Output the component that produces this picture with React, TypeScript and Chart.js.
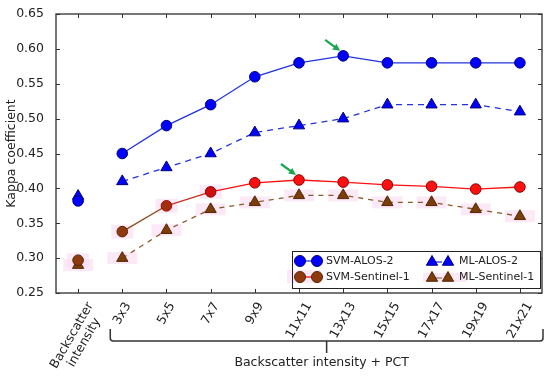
import { useEffect, useRef } from "react";
import { Chart, registerables } from "chart.js";
Chart.register(...registerables);

const categories = ["Backscatter\nintensity", "3x3", "5x5", "7x7", "9x9", "11x11", "13x13", "15x15", "17x17", "19x19", "21x21"];
const svmAlos2 = [0.382, 0.45, 0.49, 0.52, 0.56, 0.58, 0.59, 0.58, 0.58, 0.58, 0.58];
const mlAlos2 = [0.389, 0.41, 0.43, 0.45, 0.48, 0.49, 0.5, 0.52, 0.52, 0.52, 0.51];
const svmSentinel1 = [0.297, 0.338, 0.375, 0.395, 0.408, 0.412, 0.409, 0.405, 0.403, 0.399, 0.402];
const mlSentinel1 = [0.29, 0.3, 0.34, 0.37, 0.38, 0.39, 0.39, 0.38, 0.38, 0.37, 0.36];
const yTickValues = [0.25, 0.3, 0.35, 0.4, 0.45, 0.5, 0.55, 0.6, 0.65];
const seriesNames = ["SVM-ALOS-2", "ML-ALOS-2", "SVM-Sentinel-1", "ML-Sentinel-1"];
const groupTitle = "Backscatter intensity + PCT";
const yTitle = "Kappa coefficient";
// best-result markers (index into categories)
const bestAlos2Index = 6;
const bestSentinel1Index = 5;

const FONT = '"DejaVu Sans", sans-serif';
const TXT = "#222222";
const BLUE = "#0000ff";
const BLUE_EDGE = "#00007a";
const BLUE_LINE = "#2233dd";
const RED = "#ff1010";
const RED_EDGE = "#8a0000";
const BROWN = "#8e3a0e";
const BROWN_EDGE = "#5a2406";
const TRI_BROWN = "#7a3e08";
const PINK = "rgba(250, 218, 242, 0.6)";
const GREEN = "#1aa64f";

const svmS1Fill = [BROWN, BROWN, "#a0300e", "#d01010", RED, RED, RED, RED, RED, RED, RED];
const svmS1Edge = [BROWN_EDGE, BROWN_EDGE, "#b00000", RED_EDGE, RED_EDGE, RED_EDGE, RED_EDGE, RED_EDGE, RED_EDGE, RED_EDGE, RED_EDGE];

// dataset order in the chart
const IDX_SVM_ALOS = 0;
const IDX_SVM_S1 = 1;
const IDX_ML_S1 = 3;

function drawCircle(ctx: CanvasRenderingContext2D, x: number, y: number, r: number, fill: string, edge: string) {
  ctx.beginPath();
  ctx.arc(x, y, r, 0, Math.PI * 2);
  ctx.fillStyle = fill;
  ctx.fill();
  ctx.lineWidth = 1;
  ctx.strokeStyle = edge;
  ctx.stroke();
}
function drawTri(ctx: CanvasRenderingContext2D, x: number, y: number, r: number, fill: string, edge: string) {
  ctx.beginPath();
  let a = 0;
  for (let k = 0; k < 3; k++) {
    const px = x + Math.sin(a) * r;
    const py = y - Math.cos(a) * r;
    if (k === 0) ctx.moveTo(px, py);
    else ctx.lineTo(px, py);
    a += (2 * Math.PI) / 3;
  }
  ctx.closePath();
  ctx.fillStyle = fill;
  ctx.fill();
  ctx.lineWidth = 1;
  ctx.strokeStyle = edge;
  ctx.stroke();
}
function drawArrow(ctx: CanvasRenderingContext2D, px: number, py: number) {
  const x0 = px - 18, y0 = py - 16;
  const x1 = px - 3, y1 = py - 5;
  const ang = Math.atan2(y1 - y0, x1 - x0);
  const head = 8;
  ctx.save();
  ctx.strokeStyle = GREEN;
  ctx.fillStyle = GREEN;
  ctx.lineWidth = 2.2;
  ctx.beginPath();
  ctx.moveTo(x0, y0);
  ctx.lineTo(x1 - Math.cos(ang) * head * 0.8, y1 - Math.sin(ang) * head * 0.8);
  ctx.stroke();
  ctx.beginPath();
  ctx.moveTo(x1, y1);
  ctx.lineTo(x1 - Math.cos(ang - 0.45) * head, y1 - Math.sin(ang - 0.45) * head);
  ctx.lineTo(x1 - Math.cos(ang + 0.45) * head, y1 - Math.sin(ang + 0.45) * head);
  ctx.closePath();
  ctx.fill();
  ctx.restore();
}

const decor = {
  id: "decor",
  beforeDatasetsDraw(chart: any) {
    const ctx = chart.ctx as CanvasRenderingContext2D;
    ctx.save();
    ctx.fillStyle = PINK;
    const mS = chart.getDatasetMeta(IDX_SVM_S1);
    mS.data.forEach((pt: any, i: number) => {
      if (i <= 3) ctx.fillRect(pt.x - 11, pt.y - 7, 22, 14);
    });
    const mT = chart.getDatasetMeta(IDX_ML_S1);
    mT.data.forEach((pt: any) => {
      ctx.fillRect(pt.x - 15, pt.y - 6, 30, 12);
    });
    ctx.restore();
  },
  afterDraw(chart: any) {
    const ctx = chart.ctx as CanvasRenderingContext2D;
    const a = chart.chartArea;
    const xs = chart.scales.x;
    const ys = chart.scales.y;
    ctx.save();
    // frame
    ctx.strokeStyle = "#4a4a4a";
    ctx.lineWidth = 1.5;
    ctx.strokeRect(a.left, a.top, a.right - a.left, a.bottom - a.top);
    // inward ticks
    ctx.lineWidth = 1;
    ctx.strokeStyle = "#333";
    ctx.beginPath();
    yTickValues.forEach((v) => {
      const py = Math.round(ys.getPixelForValue(v)) + 0.5;
      ctx.moveTo(a.left, py); ctx.lineTo(a.left + 4, py);
      ctx.moveTo(a.right - 4, py); ctx.lineTo(a.right, py);
    });
    categories.forEach((_, i) => {
      const px = Math.round(xs.getPixelForValue(i)) + 0.5;
      ctx.moveTo(px, a.top); ctx.lineTo(px, a.top + 4);
      ctx.moveTo(px, a.bottom - 4); ctx.lineTo(px, a.bottom);
    });
    ctx.stroke();

    // x labels rotated
    ctx.fillStyle = TXT;
    ctx.font = `12.5px ${FONT}`;
    const ang = (60 * Math.PI) / 180;
    const lineH = 14;
    categories.forEach((lab, i) => {
      const lines = lab.split("\n");
      const w = Math.max(...lines.map((l) => ctx.measureText(l).width));
      const h = lines.length * lineH;
      const bh = w * Math.sin(ang) + h * Math.cos(ang);
      const cx = xs.getPixelForValue(i);
      const cy = a.bottom + 7 + bh / 2;
      ctx.save();
      ctx.translate(cx, cy);
      ctx.rotate(-ang);
      ctx.textAlign = "center";
      ctx.textBaseline = "middle";
      lines.forEach((l, k) => ctx.fillText(l, 0, (k - (lines.length - 1) / 2) * lineH));
      ctx.restore();
    });

    // bracket
    const xL = xs.getPixelForValue(1) - 12;
    const xR = a.right + 1;
    const yB = a.bottom + 48;
    const hook = 12, rr = 3;
    const xM = (xL + xR) / 2;
    ctx.strokeStyle = "#333";
    ctx.lineWidth = 1.5;
    ctx.beginPath();
    ctx.moveTo(xL, yB - hook);
    ctx.lineTo(xL, yB - rr);
    ctx.quadraticCurveTo(xL, yB, xL + rr, yB);
    ctx.lineTo(xR - rr, yB);
    ctx.quadraticCurveTo(xR, yB, xR, yB - rr);
    ctx.lineTo(xR, yB - hook);
    ctx.moveTo(xM, yB);
    ctx.lineTo(xM, yB + 12);
    ctx.stroke();
    ctx.textAlign = "center";
    ctx.textBaseline = "middle";
    ctx.fillText(groupTitle, xM - 5, a.bottom + 70);

    // arrows
    const pA = chart.getDatasetMeta(IDX_SVM_ALOS).data[bestAlos2Index];
    drawArrow(ctx, pA.x, pA.y);
    const pS = chart.getDatasetMeta(IDX_SVM_S1).data[bestSentinel1Index];
    drawArrow(ctx, pS.x, pS.y);

    // legend
    const lx = a.right - 250, ly = a.bottom - 42, lw = 248, lh = 37;
    ctx.fillStyle = "#ffffff";
    ctx.fillRect(lx, ly, lw, lh);
    ctx.fillStyle = PINK;
    ctx.fillRect(lx - 5, ly + 19, 34, 13);
    ctx.fillRect(lx + 131, ly + 22, 44, 9);
    ctx.strokeStyle = "#222";
    ctx.lineWidth = 1;
    ctx.strokeRect(lx + 0.5, ly + 0.5, lw, lh);
    const r1 = ly + 10, r2 = ly + 26;
    // SVM-ALOS-2
    ctx.strokeStyle = BLUE_LINE; ctx.lineWidth = 1.3;
    ctx.beginPath(); ctx.moveTo(lx + 8, r1); ctx.lineTo(lx + 25, r1); ctx.stroke();
    drawCircle(ctx, lx + 8, r1, 5.5, BLUE, BLUE_EDGE);
    drawCircle(ctx, lx + 25, r1, 5.5, BLUE, BLUE_EDGE);
    // SVM-Sentinel-1
    ctx.strokeStyle = RED; ctx.lineWidth = 1.3;
    ctx.beginPath(); ctx.moveTo(lx + 8, r2); ctx.lineTo(lx + 25, r2); ctx.stroke();
    drawCircle(ctx, lx + 8, r2, 5.5, BROWN, BROWN_EDGE);
    drawCircle(ctx, lx + 25, r2, 5.5, BROWN, BROWN_EDGE);
    // ML-ALOS-2
    ctx.strokeStyle = BLUE_LINE; ctx.lineWidth = 1.3;
    ctx.beginPath(); ctx.moveTo(lx + 138, r1 + 1); ctx.lineTo(lx + 150, r1 + 1); ctx.stroke();
    drawTri(ctx, lx + 140, r1 + 1, 6.5, BLUE, BLUE_EDGE);
    drawTri(ctx, lx + 156, r1 + 1, 6.5, BLUE, BLUE_EDGE);
    // ML-Sentinel-1
    ctx.strokeStyle = "#8b5a2b";
    ctx.beginPath(); ctx.moveTo(lx + 138, r2 + 1); ctx.lineTo(lx + 150, r2 + 1); ctx.stroke();
    drawTri(ctx, lx + 140, r2 + 1, 6.5, TRI_BROWN, BROWN_EDGE);
    drawTri(ctx, lx + 156, r2 + 1, 6.5, TRI_BROWN, BROWN_EDGE);
    ctx.fillStyle = TXT;
    ctx.font = `11px ${FONT}`;
    ctx.textAlign = "left";
    ctx.textBaseline = "middle";
    ctx.fillText(seriesNames[0], lx + 34, r1);
    ctx.fillText(seriesNames[2], lx + 34, r2);
    ctx.fillText(seriesNames[1], lx + 167, r1);
    ctx.fillText(seriesNames[3], lx + 167, r2);
    ctx.restore();
  },
};

const hideFirst = (c: any) => (c.p0DataIndex === 0 ? "rgba(0,0,0,0)" : undefined);

export default function App() {
  const ref = useRef<HTMLCanvasElement | null>(null);
  useEffect(() => {
    if (!ref.current) return;
    const chart = new Chart(ref.current, {
      type: "line",
      data: {
        labels: categories,
        datasets: [
          {
            label: seriesNames[0],
            data: svmAlos2,
            borderColor: BLUE_LINE,
            borderWidth: 1.3,
            pointStyle: "circle",
            pointRadius: 5.3,
            pointBackgroundColor: BLUE,
            pointBorderColor: BLUE_EDGE,
            pointBorderWidth: 1,
            segment: { borderColor: hideFirst },
          } as any,
          {
            label: seriesNames[2],
            data: svmSentinel1,
            borderColor: RED,
            borderWidth: 1.3,
            pointStyle: "circle",
            pointRadius: 5.3,
            pointBackgroundColor: svmS1Fill,
            pointBorderColor: svmS1Edge,
            pointBorderWidth: 1,
            segment: {
              borderColor: (c: any) =>
                c.p0DataIndex === 0 ? "rgba(0,0,0,0)" : c.p0DataIndex === 1 ? "#8b4a1e" : c.p0DataIndex === 2 ? "#c83020" : undefined,
            },
          },
          {
            label: seriesNames[1],
            data: mlAlos2,
            borderColor: BLUE_LINE,
            borderWidth: 1.3,
            borderDash: [6, 5],
            pointStyle: "triangle",
            pointRadius: 6.5,
            pointBackgroundColor: BLUE,
            pointBorderColor: BLUE_EDGE,
            pointBorderWidth: 1,
            segment: { borderColor: hideFirst },
          },
          {
            label: seriesNames[3],
            data: mlSentinel1,
            borderColor: "#8b5a2b",
            borderWidth: 1.3,
            borderDash: [5, 5],
            pointStyle: "triangle",
            pointRadius: 6.5,
            pointBackgroundColor: TRI_BROWN,
            pointBorderColor: BROWN_EDGE,
            pointBorderWidth: 1,
            segment: { borderColor: hideFirst },
          },
        ],
      },
      options: {
        responsive: false,
        animation: false,
        events: [],
        layout: { padding: { left: 0, top: 14, right: 8, bottom: 0 } },
        plugins: { legend: { display: false }, tooltip: { enabled: false } },
        scales: {
          x: {
            type: "category",
            offset: true,
            grid: { display: false },
            border: { display: false },
            ticks: { display: false },
            afterFit: (s: any) => { s.height = 85; },
          },
          y: {
            type: "linear",
            min: 0.25,
            max: 0.65,
            grid: { display: false },
            border: { display: false },
            afterBuildTicks: (s: any) => { s.ticks = yTickValues.map((v) => ({ value: v })); },
            afterFit: (s: any) => { s.width = 56; },
            ticks: {
              padding: 4,
              color: TXT,
              font: { family: FONT, size: 12.5 },
              callback: (v: any) => Number(v).toFixed(2),
            },
            title: {
              display: true,
              text: yTitle,
              color: TXT,
              font: { family: FONT, size: 12.5 },
              padding: { top: 4, bottom: 0 },
            },
          },
        },
      },
      plugins: [decor],
    });
    return () => chart.destroy();
  }, []);
  return (
    <div style={{ position: "absolute", left: 0, top: 0, width: 550, height: 378, background: "#fff" }}>
      <canvas ref={ref} width={550} height={378} />
    </div>
  );
}
